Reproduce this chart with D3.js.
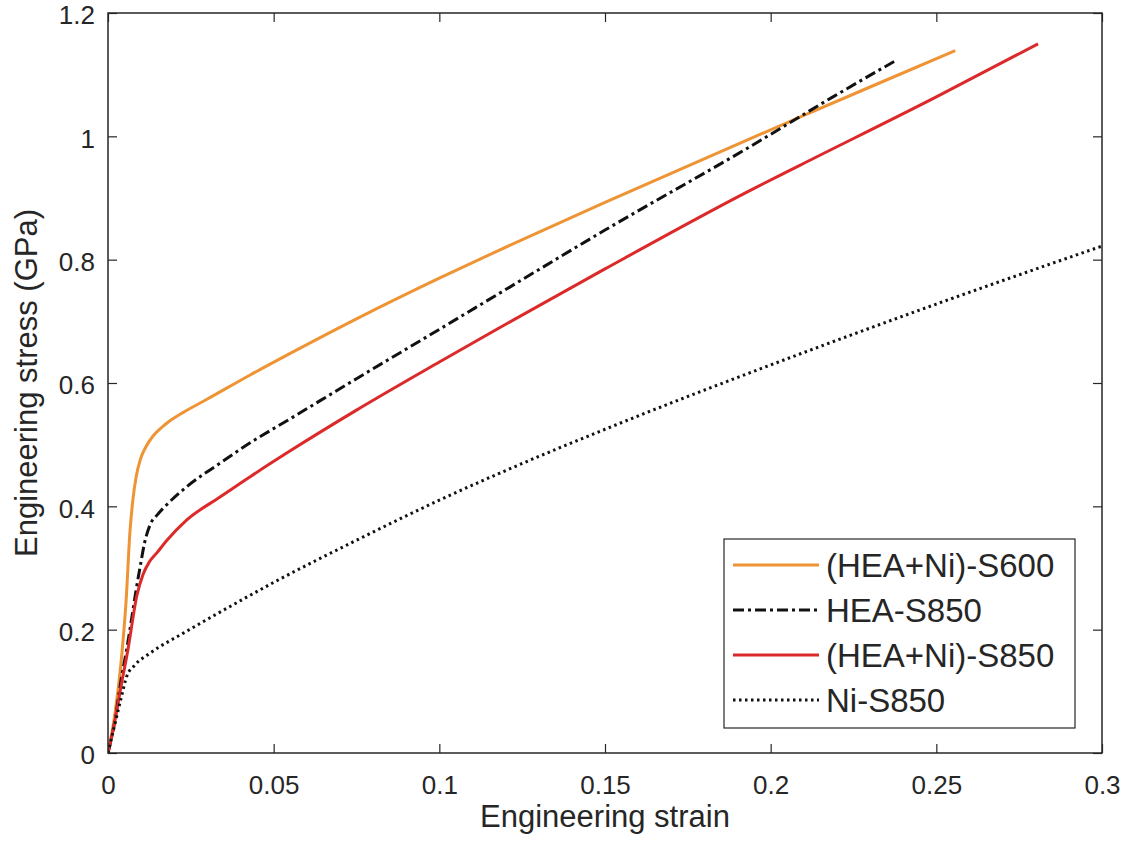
<!DOCTYPE html>
<html>
<head>
<meta charset="utf-8">
<script src="https://cdn.jsdelivr.net/npm/d3@7"></script>
<style>
  body { margin: 0; background: #fff; }
  text { font-family: "Liberation Sans", Arial, Helvetica, sans-serif; fill: #262626; }
</style>
</head>
<body>
<svg></svg>
<script>
// [strain, stress GPa]
const s600Ni = [[0,0],[0.002,0.06],[0.004,0.15],[0.0055,0.25],[0.0066,0.357],[0.0075,0.41],[0.0085,0.448],[0.0097,0.475],[0.0115,0.497],[0.0136,0.514],[0.016,0.527],[0.018,0.536],[0.0226,0.552],[0.030,0.574],[0.0429,0.613],[0.055,0.648],[0.075,0.704],[0.1,0.77],[0.1183,0.816],[0.15,0.893],[0.1937,0.996],[0.2088,1.031],[0.23,1.08],[0.2557,1.139]];
const s850Hea = [[0,0],[0.002,0.05],[0.004,0.12],[0.0057,0.17],[0.0072,0.22],[0.0085,0.265],[0.0097,0.302],[0.011,0.34],[0.0127,0.37],[0.015,0.387],[0.0178,0.403],[0.0238,0.432],[0.0338,0.47],[0.0429,0.503],[0.055,0.542],[0.075,0.607],[0.1,0.687],[0.1183,0.746],[0.15,0.848],[0.1937,0.983],[0.2188,1.064],[0.2381,1.124]];
const s850Ni = [[0,0],[0.002,0.05],[0.004,0.11],[0.006,0.167],[0.0087,0.255],[0.0106,0.29],[0.0125,0.31],[0.0148,0.325],[0.0178,0.345],[0.0238,0.378],[0.0338,0.415],[0.0429,0.448],[0.055,0.49],[0.075,0.556],[0.1,0.634],[0.1183,0.69],[0.15,0.785],[0.1937,0.912],[0.2088,0.953],[0.25,1.064],[0.2807,1.15]];
const niS850 = [[0,0],[0.002,0.045],[0.004,0.09],[0.0057,0.125],[0.008,0.142],[0.0127,0.162],[0.0226,0.194],[0.033,0.226],[0.0498,0.276],[0.075,0.345],[0.1,0.41],[0.1183,0.454],[0.15,0.525],[0.2088,0.647],[0.2269,0.683],[0.25,0.728],[0.3,0.822]];

const seriesNames = ["(HEA+Ni)-S600", "HEA-S850", "(HEA+Ni)-S850", "Ni-S850"];
const seriesData = [s600Ni, s850Hea, s850Ni, niS850];
const seriesColors = ["#EE9435", "#111111", "#DC2A2A", "#111111"];
const seriesDash = [null, "11,4,3,4", null, "2.5,3.5"];

const xTicks = [0, 0.05, 0.1, 0.15, 0.2, 0.25, 0.3];
const yTicks = [0, 0.2, 0.4, 0.6, 0.8, 1, 1.2];

const margin = {top: 13, right: 26, bottom: 101, left: 108},
    width = 1128 - margin.left - margin.right,
    height = 854 - margin.top - margin.bottom;

const svgRoot = d3.select("svg")
    .attr("width", 1128)
    .attr("height", 854);

const svg = svgRoot.append("g")
    .attr("transform", `translate(${margin.left},${margin.top})`);

const x = d3.scaleLinear().domain([0, 0.3]).range([0, width]);
const y = d3.scaleLinear().domain([0, 1.2]).range([height, 0]);

svg.append("clipPath").attr("id", "clip")
  .append("rect").attr("width", width).attr("height", height);

// axes (ticks inside, mirrored on top/right)
const axisColor = "#262626";
function styleAxis(g) {
  g.select(".domain").remove();
  g.selectAll("line").attr("stroke", axisColor).attr("stroke-width", 1.2);
  g.selectAll("text").style("font-size", "26px").attr("fill", axisColor);
}

svg.append("g")
    .attr("transform", `translate(0,${height})`)
    .call(d3.axisBottom(x).tickValues(xTicks).tickSize(-9).tickPadding(23).tickFormat(d3.format("~g")))
    .call(styleAxis);

svg.append("g")
    .call(d3.axisLeft(y).tickValues(yTicks).tickSize(-9).tickPadding(13).tickFormat(d3.format("~g")))
    .call(styleAxis)
    .selectAll("text").attr("dy", "0.42em");

svg.append("g")
    .call(d3.axisTop(x).tickValues(xTicks).tickSize(-9).tickFormat(""))
    .call(styleAxis);

svg.append("g")
    .attr("transform", `translate(${width},0)`)
    .call(d3.axisRight(y).tickValues(yTicks).tickSize(-9).tickFormat(""))
    .call(styleAxis);

// lines
const line = d3.line()
    .x(d => x(d[0]))
    .y(d => y(d[1]))
    .curve(d3.curveMonotoneX);

const plot = svg.append("g").attr("clip-path", "url(#clip)");
seriesData.forEach((data, i) => {
  plot.append("path")
      .datum(data)
      .attr("fill", "none")
      .attr("stroke", seriesColors[i])
      .attr("stroke-width", 3)
      .attr("stroke-dasharray", seriesDash[i])
      .attr("d", line);
});

// box
svg.append("rect")
    .attr("width", width)
    .attr("height", height)
    .attr("fill", "none")
    .attr("stroke", axisColor)
    .attr("stroke-width", 1.5);

// axis labels
svg.append("text")
    .attr("x", width / 2)
    .attr("y", height + 74)
    .style("text-anchor", "middle")
    .style("font-size", "31px")
    .text("Engineering strain");

svg.append("text")
    .attr("x", -height / 2)
    .attr("y", -margin.left + 37)
    .attr("transform", "rotate(-90)")
    .style("text-anchor", "middle")
    .style("font-size", "31px")
    .text("Engineering stress (GPa)");

// legend
const legend = svgRoot.append("g").attr("transform", "translate(724,539)");
legend.append("rect")
    .attr("width", 351)
    .attr("height", 189)
    .attr("fill", "#fff")
    .attr("stroke", axisColor)
    .attr("stroke-width", 1.2);

seriesNames.forEach((name, i) => {
  const cy = 26 + i * 45;
  legend.append("line")
      .attr("x1", 9).attr("x2", 95)
      .attr("y1", cy).attr("y2", cy)
      .attr("stroke", seriesColors[i])
      .attr("stroke-width", 3)
      .attr("stroke-dasharray", seriesDash[i]);
  legend.append("text")
      .attr("x", 102)
      .attr("y", cy + 12)
      .style("font-size", "33px")
      .text(name);
});
</script>
</body>
</html>
